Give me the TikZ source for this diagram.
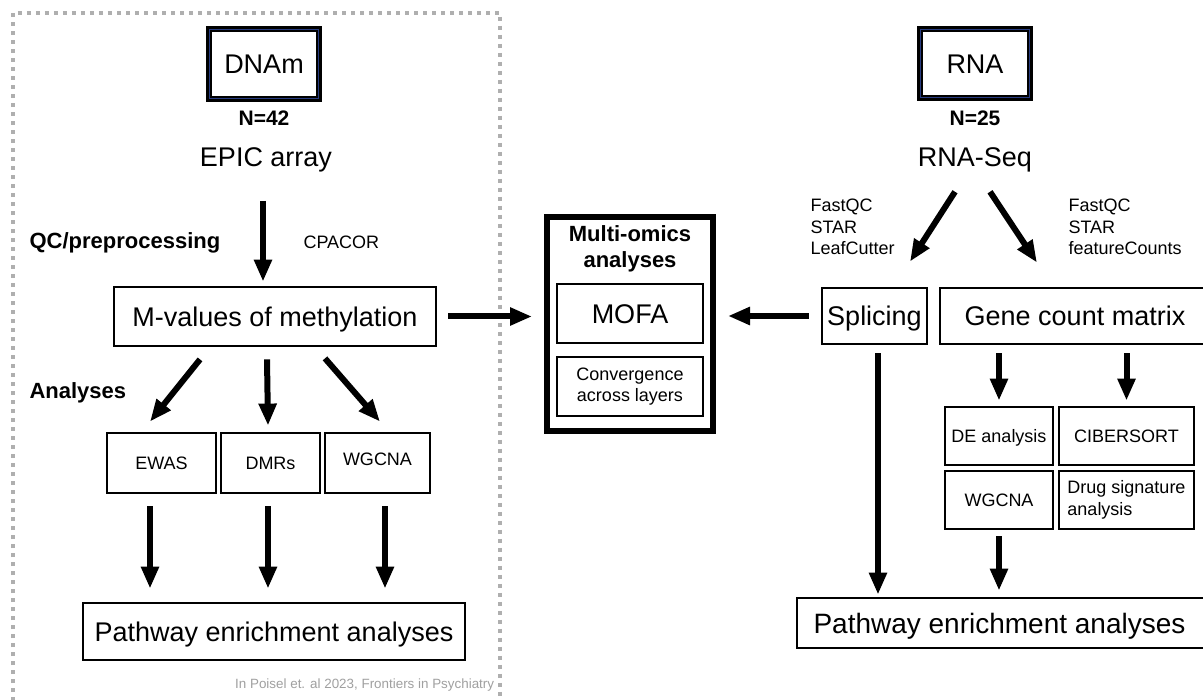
\documentclass[tikz,border=0pt]{standalone}
\usepackage{fontspec}
\setmainfont{Liberation Sans}
\usetikzlibrary{arrows.meta}
\definecolor{dotgray}{RGB}{175,175,175}
\definecolor{innerblue}{RGB}{40,60,130}
\definecolor{creditgray}{RGB}{160,160,160}
\begin{document}
\begin{tikzpicture}[x=1pt,y=-1pt,
  big/.style={font=\fontsize{27}{30}\selectfont},
  small/.style={font=\fontsize{18}{21.5}\selectfont},
  bigc/.style={big, text height=19.4pt, text depth=0pt},
  smallc/.style={small, text height=12.9pt, text depth=0pt},
  boldlab/.style={font=\bfseries\fontsize{22}{26}\selectfont},
  nlab/.style={font=\bfseries\fontsize{21}{24}\selectfont},
  box/.style={draw, line width=2.8pt, fill=white, inner sep=0pt, align=center},
  thickbox/.style={draw, line width=6pt, fill=white, inner sep=0pt},
  arr/.style={line width=6pt, -{Triangle[width=17pt,length=22pt]}},
]
\useasboundingbox (0,0) rectangle (1203,700);
\clip (0,0) rectangle (1203,700);
\fill[white] (0,0) rectangle (1203,700);

% dotted frame
\draw[dotgray, line width=4pt, dash pattern=on 4pt off 5pt] (13,710) -- (13,13) -- (500,13) -- (500,710);

% ---------- left (DNAm) ----------
\node[thickbox, minimum width=110pt, minimum height=70pt, bigc] (dnam) at (264,64) {DNAm};
\draw[innerblue, line width=0.8pt] ([shift={(3.6pt,-3.6pt)}]dnam.north west) rectangle ([shift={(-3.6pt,3.6pt)}]dnam.south east);
\node[nlab] (n42) at (264,118) {N=42};
\node[big] (epic) at (266,160) {EPIC array};
\node[boldlab, anchor=west] (qc) at (26,243) {QC/preprocessing};
\node[small, anchor=west] (cpacor) at (300,242) {CPACOR};
\node[box, bigc, minimum width=322pt, minimum height=59pt] (mval) at (275,316.5) {M-values of methylation};
\node[boldlab, anchor=west] (anl) at (26,393) {Analyses};
\node[box, smallc, minimum width=109pt, minimum height=60pt] (ewas) at (161.5,463) {EWAS};
\node[box, smallc, minimum width=99pt, minimum height=60pt] (dmrs) at (270.5,463) {DMRs};
\node[box, smallc, minimum width=105pt, minimum height=60pt] (wg1) at (377.5,463) {\raisebox{4pt}{WGCNA}};
\node[box, bigc, minimum width=382pt, minimum height=57pt] (path1) at (274,631.5) {Pathway enrichment analyses};
\node[font=\fontsize{13.4}{15}\selectfont, text=creditgray, anchor=west, inner sep=0pt] (credit) at (235,685) {In Poisel et. al 2023, Frontiers in Psychiatry};

\draw[arr, shorten <=25pt, shorten >=4pt] (epic.south -| 263,0) -- (mval.north -| 263,0);
\draw[arr] ([xshift=-75pt,yshift=-12pt]mval.south) -- ([xshift=-11.5pt,yshift=10pt]ewas.north);
\draw[arr] ([xshift=-8pt,yshift=-12pt]mval.south) -- ([xshift=-2.5pt,yshift=6pt]dmrs.north);
\draw[arr] ([xshift=50pt,yshift=-11pt]mval.south) -- ([xshift=2.5pt,yshift=10pt]wg1.north);
\draw[arr, shorten <=12pt, shorten >=13pt] ([xshift=-11.5pt]ewas.south) -- ([xshift=-11.5pt]ewas.south |- path1.north);
\draw[arr, shorten <=12pt, shorten >=13pt] ([xshift=-2.5pt]dmrs.south) -- ([xshift=-2.5pt]dmrs.south |- path1.north);
\draw[arr, shorten <=12pt, shorten >=13pt] ([xshift=7.5pt]wg1.south) -- ([xshift=7.5pt]wg1.south |- path1.north);

% ---------- middle (multi-omics) ----------
\node[thickbox, minimum width=166pt, minimum height=214pt] (multi) at (630,324) {};
\node[boldlab, align=center] (multitxt) at (630,249) {Multi-omics\\analyses};
\node[box, bigc, minimum width=146pt, minimum height=59pt] (mofa) at (630,313.5) {MOFA};
\node[box, small, minimum width=146pt, minimum height=59pt] (conv) at (630,386.5) {Convergence\\across layers};

\draw[arr, shorten <=11pt, shorten >=12pt] (mval.east) -- (mval.east -| multi.west);

% ---------- right (RNA) ----------
\node[thickbox, minimum width=110pt, minimum height=69pt, bigc] (rna) at (975,63.5) {RNA};
\draw[innerblue, line width=0.8pt] ([shift={(3.6pt,-3.6pt)}]rna.north west) rectangle ([shift={(-3.6pt,3.6pt)}]rna.south east);
\node[nlab] (n25) at (975,118) {N=25};
\node[big] (rnaseq) at (975,160) {RNA-Seq};
\node[small, anchor=west, align=left] (tools1) at (807,227) {FastQC\\STAR\\LeafCutter};
\node[small, anchor=west, align=left] (tools2) at (1065,227) {FastQC\\STAR\\featureCounts};
\node[box, bigc, minimum width=105pt, minimum height=56pt] (spl) at (874.5,316) {Splicing};
\node[box, bigc, minimum width=270pt, minimum height=56pt] (gene) at (1075,316) {Gene count matrix};
\node[box, smallc, minimum width=108pt, minimum height=58pt] (de) at (999,436) {DE analysis};
\node[box, smallc, minimum width=135pt, minimum height=58pt] (cib) at (1126.5,436) {CIBERSORT};
\node[box, smallc, minimum width=108pt, minimum height=58pt] (wg2) at (999,500) {WGCNA};
\node[box, small, minimum width=135pt, minimum height=58pt, align=left] (drug) at (1126.5,500) {Drug signature\\analysis};
\node[box, font=\fontsize{28}{30}\selectfont, text height=20pt, text depth=0pt, minimum width=413pt, minimum height=50pt] (path2) at (1003.5,623) {\hspace*{-8pt}Pathway enrichment analyses};

\draw[arr, shorten <=12pt, shorten >=12pt] (spl.west) -- (spl.west -| multi.east);
\draw[arr] ([xshift=-20pt,yshift=-16pt]rnaseq.south) -- ([xshift=35.5pt,yshift=25pt]spl.north);
\draw[arr] ([xshift=15pt,yshift=-16pt]rnaseq.south) -- ([xshift=-38pt,yshift=24pt]gene.north);
\draw[arr, shorten <=8pt, shorten >=5pt] (gene.south -| de.north) -- (de.north);
\draw[arr, shorten <=8pt, shorten >=5pt] (gene.south -| cib.north) -- (cib.north);
\draw[arr, shorten <=6pt, shorten >=6pt] (wg2.south) -- (wg2.south |- path2.north);
\draw[arr, shorten <=8pt, shorten >=2pt] ([xshift=3.5pt]spl.south) -- ([xshift=3.5pt]spl.south |- path2.north);
\end{tikzpicture}
\end{document}
